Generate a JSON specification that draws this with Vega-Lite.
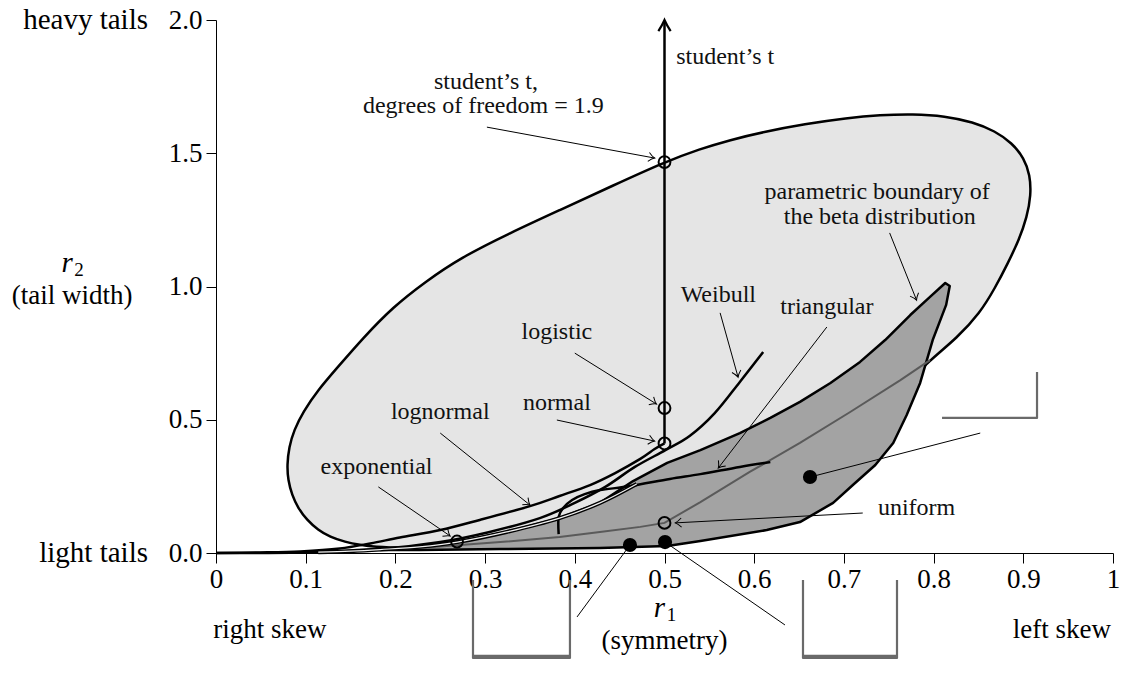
{
  "$schema": "https://vega.github.io/schema/vega-lite/v6.json",
  "width": 897,
  "height": 533,
  "autosize": "none",
  "padding": {"left": 216, "top": 20, "right": 17, "bottom": 120},
  "background": "white",
  "config": {
    "view": {"stroke": null},
    "font": "Liberation Serif",
    "axis": {"grid": false, "tickSize": 10, "tickColor": "black", "tickWidth": 1, "domainColor": "black", "domainWidth": 1,
      "labelFontSize": 27, "labelFont": "Liberation Serif", "labelColor": "black", "labelFlush": false, "labelOverlap": false}
  },
  "datasets": {
    "ellipse": [
      {"i": 1, "x": 0.5, "y": 1.467}, {"i": 2, "x": 0.5396, "y": 1.5159}, {"i": 3, "x": 0.573, "y": 1.5497},
      {"i": 4, "x": 0.6098, "y": 1.5797}, {"i": 5, "x": 0.6566, "y": 1.6098}, {"i": 6, "x": 0.7035, "y": 1.6323},
      {"i": 7, "x": 0.7402, "y": 1.6435}, {"i": 8, "x": 0.777, "y": 1.6473}, {"i": 9, "x": 0.8127, "y": 1.6398},
      {"i": 10, "x": 0.8439, "y": 1.6173}, {"i": 11, "x": 0.8685, "y": 1.5835}, {"i": 12, "x": 0.8874, "y": 1.5385},
      {"i": 13, "x": 0.9008, "y": 1.4822}, {"i": 14, "x": 0.9075, "y": 1.4184}, {"i": 15, "x": 0.9086, "y": 1.3433},
      {"i": 16, "x": 0.9041, "y": 1.2608}, {"i": 17, "x": 0.8952, "y": 1.1745}, {"i": 18, "x": 0.8829, "y": 1.0882},
      {"i": 19, "x": 0.8685, "y": 0.9944}, {"i": 20, "x": 0.8517, "y": 0.9006}, {"i": 21, "x": 0.8261, "y": 0.8068},
      {"i": 22, "x": 0.796, "y": 0.7242}, {"i": 23, "x": 0.7625, "y": 0.6116}, {"i": 24, "x": 0.7291, "y": 0.4991},
      {"i": 25, "x": 0.6845, "y": 0.3677}, {"i": 26, "x": 0.6288, "y": 0.2364}, {"i": 27, "x": 0.5619, "y": 0.1313},
      {"i": 28, "x": 0.4838, "y": 0.0563}, {"i": 29, "x": 0.3946, "y": 0.0263}, {"i": 30, "x": 0.2943, "y": 0.0188},
      {"i": 31, "x": 0.2051, "y": 0.0188}, {"i": 32, "x": 0.1773, "y": 0.0225}, {"i": 33, "x": 0.1605, "y": 0.03},
      {"i": 34, "x": 0.1438, "y": 0.0413}, {"i": 35, "x": 0.1271, "y": 0.06}, {"i": 36, "x": 0.1137, "y": 0.0863},
      {"i": 37, "x": 0.1014, "y": 0.1238}, {"i": 38, "x": 0.0914, "y": 0.1689}, {"i": 39, "x": 0.0847, "y": 0.2176},
      {"i": 40, "x": 0.0803, "y": 0.2739}, {"i": 41, "x": 0.0792, "y": 0.3302}, {"i": 42, "x": 0.0814, "y": 0.3977},
      {"i": 43, "x": 0.087, "y": 0.4615}, {"i": 44, "x": 0.097, "y": 0.5291}, {"i": 45, "x": 0.1137, "y": 0.6116},
      {"i": 46, "x": 0.1349, "y": 0.6942}, {"i": 47, "x": 0.1639, "y": 0.8068}, {"i": 48, "x": 0.1973, "y": 0.9231},
      {"i": 49, "x": 0.233, "y": 1.0169}, {"i": 50, "x": 0.272, "y": 1.1069}, {"i": 51, "x": 0.3278, "y": 1.2008},
      {"i": 52, "x": 0.3835, "y": 1.2871}, {"i": 53, "x": 0.4415, "y": 1.3771}
    ],
    "beta": [
      {"i": 1, "x": 0.183, "y": 0.011}, {"i": 2, "x": 0.227, "y": 0.023}, {"i": 3, "x": 0.269, "y": 0.041},
      {"i": 4, "x": 0.324, "y": 0.079}, {"i": 5, "x": 0.383, "y": 0.131}, {"i": 6, "x": 0.428, "y": 0.188},
      {"i": 7, "x": 0.465, "y": 0.270}, {"i": 8, "x": 0.503, "y": 0.338}, {"i": 9, "x": 0.540, "y": 0.386},
      {"i": 10, "x": 0.584, "y": 0.450}, {"i": 11, "x": 0.618, "y": 0.507}, {"i": 12, "x": 0.651, "y": 0.567},
      {"i": 13, "x": 0.685, "y": 0.638}, {"i": 14, "x": 0.718, "y": 0.717}, {"i": 15, "x": 0.746, "y": 0.799},
      {"i": 16, "x": 0.774, "y": 0.893}, {"i": 17, "x": 0.796, "y": 0.961}, {"i": 18, "x": 0.813, "y": 1.013},
      {"i": 19, "x": 0.818, "y": 1.002}, {"i": 20, "x": 0.814, "y": 0.931}, {"i": 21, "x": 0.799, "y": 0.799},
      {"i": 22, "x": 0.785, "y": 0.638}, {"i": 23, "x": 0.770, "y": 0.518}, {"i": 24, "x": 0.755, "y": 0.413},
      {"i": 25, "x": 0.735, "y": 0.330}, {"i": 26, "x": 0.710, "y": 0.255}, {"i": 27, "x": 0.688, "y": 0.188},
      {"i": 28, "x": 0.651, "y": 0.116}, {"i": 29, "x": 0.614, "y": 0.086}, {"i": 30, "x": 0.540, "y": 0.045},
      {"i": 31, "x": 0.503, "y": 0.026}, {"i": 32, "x": 0.428, "y": 0.019}, {"i": 33, "x": 0.317, "y": 0.015},
      {"i": 34, "x": 0.227, "y": 0.011}
    ],
    "curves": [
      {"c": "grey", "i": 1, "x": 0.183, "y": 0.011}, {"c": "grey", "i": 2, "x": 0.250, "y": 0.024},
      {"c": "grey", "i": 3, "x": 0.317, "y": 0.041}, {"c": "grey", "i": 4, "x": 0.383, "y": 0.060},
      {"c": "grey", "i": 5, "x": 0.428, "y": 0.079}, {"c": "grey", "i": 6, "x": 0.473, "y": 0.098},
      {"c": "grey", "i": 7, "x": 0.500, "y": 0.113}, {"c": "grey", "i": 8, "x": 0.540, "y": 0.191},
      {"c": "grey", "i": 9, "x": 0.595, "y": 0.304}, {"c": "grey", "i": 10, "x": 0.651, "y": 0.413},
      {"c": "grey", "i": 11, "x": 0.707, "y": 0.529}, {"c": "grey", "i": 12, "x": 0.763, "y": 0.649},
      {"c": "grey", "i": 13, "x": 0.796, "y": 0.724},
      {"c": "lognormal", "i": 1, "x": 0.0, "y": 0.0}, {"c": "lognormal", "i": 2, "x": 0.049, "y": 0.002},
      {"c": "lognormal", "i": 3, "x": 0.094, "y": 0.006}, {"c": "lognormal", "i": 4, "x": 0.138, "y": 0.017},
      {"c": "lognormal", "i": 5, "x": 0.172, "y": 0.036}, {"c": "lognormal", "i": 6, "x": 0.205, "y": 0.058},
      {"c": "lognormal", "i": 7, "x": 0.250, "y": 0.086}, {"c": "lognormal", "i": 8, "x": 0.294, "y": 0.124},
      {"c": "lognormal", "i": 9, "x": 0.350, "y": 0.176}, {"c": "lognormal", "i": 10, "x": 0.383, "y": 0.214},
      {"c": "lognormal", "i": 11, "x": 0.417, "y": 0.255}, {"c": "lognormal", "i": 12, "x": 0.445, "y": 0.300},
      {"c": "lognormal", "i": 13, "x": 0.473, "y": 0.353}, {"c": "lognormal", "i": 14, "x": 0.489, "y": 0.390},
      {"c": "lognormal", "i": 15, "x": 0.500, "y": 0.411},
      {"c": "weibull", "i": 1, "x": 0.0, "y": 0.0}, {"c": "weibull", "i": 2, "x": 0.094, "y": 0.002},
      {"c": "weibull", "i": 3, "x": 0.183, "y": 0.015}, {"c": "weibull", "i": 4, "x": 0.250, "y": 0.041},
      {"c": "weibull", "i": 5, "x": 0.305, "y": 0.079}, {"c": "weibull", "i": 6, "x": 0.361, "y": 0.131},
      {"c": "weibull", "i": 7, "x": 0.400, "y": 0.188}, {"c": "weibull", "i": 8, "x": 0.434, "y": 0.248},
      {"c": "weibull", "i": 9, "x": 0.467, "y": 0.323}, {"c": "weibull", "i": 10, "x": 0.501, "y": 0.386},
      {"c": "weibull", "i": 11, "x": 0.528, "y": 0.439}, {"c": "weibull", "i": 12, "x": 0.556, "y": 0.525},
      {"c": "weibull", "i": 13, "x": 0.584, "y": 0.642}, {"c": "weibull", "i": 14, "x": 0.610, "y": 0.754},
      {"c": "double", "i": 1, "x": 0.114, "y": 0.003}, {"c": "double", "i": 2, "x": 0.150, "y": 0.007},
      {"c": "double", "i": 3, "x": 0.183, "y": 0.013}, {"c": "double", "i": 4, "x": 0.227, "y": 0.023},
      {"c": "double", "i": 5, "x": 0.269, "y": 0.041}, {"c": "double", "i": 6, "x": 0.324, "y": 0.079},
      {"c": "double", "i": 7, "x": 0.383, "y": 0.131}, {"c": "double", "i": 8, "x": 0.428, "y": 0.188},
      {"c": "double", "i": 9, "x": 0.469, "y": 0.259},
      {"c": "triangular", "i": 1, "x": 0.382, "y": 0.071}, {"c": "triangular", "i": 2, "x": 0.382, "y": 0.135},
      {"c": "triangular", "i": 3, "x": 0.387, "y": 0.169}, {"c": "triangular", "i": 4, "x": 0.397, "y": 0.199},
      {"c": "triangular", "i": 5, "x": 0.411, "y": 0.221}, {"c": "triangular", "i": 6, "x": 0.428, "y": 0.236},
      {"c": "triangular", "i": 7, "x": 0.462, "y": 0.251}, {"c": "triangular", "i": 8, "x": 0.506, "y": 0.278},
      {"c": "triangular", "i": 9, "x": 0.540, "y": 0.296}, {"c": "triangular", "i": 10, "x": 0.584, "y": 0.323},
      {"c": "triangular", "i": 11, "x": 0.618, "y": 0.341}
    ],
    "tline": [{"x": 0.5, "y": 0.411, "y2": 1.995}],
    "tip": [{"x": 0.5, "y": 2.0}],
    "open": [
      {"x": 0.5, "y": 1.467}, {"x": 0.5, "y": 0.544}, {"x": 0.5, "y": 0.411},
      {"x": 0.5, "y": 0.113}, {"x": 0.2687, "y": 0.043}
    ],
    "dots": [{"x": 0.4615, "y": 0.030}, {"x": 0.5006, "y": 0.041}, {"x": 0.6622, "y": 0.285}],
    "arrows": [
      {"x": 0.302, "y": 1.598, "x2": 0.489, "y2": 1.482},
      {"x": 0.400, "y": 0.750, "x2": 0.491, "y2": 0.559},
      {"x": 0.380, "y": 0.499, "x2": 0.489, "y2": 0.420},
      {"x": 0.250, "y": 0.450, "x2": 0.350, "y2": 0.180},
      {"x": 0.181, "y": 0.248, "x2": 0.261, "y2": 0.064},
      {"x": 0.562, "y": 0.901, "x2": 0.582, "y2": 0.660},
      {"x": 0.681, "y": 0.848, "x2": 0.560, "y2": 0.319},
      {"x": 0.751, "y": 1.201, "x2": 0.781, "y2": 0.949},
      {"x": 0.721, "y": 0.150, "x2": 0.512, "y2": 0.113}
    ],
    "leaders": [
      {"x": 0.6622, "y": 0.285, "x2": 0.852, "y2": 0.450},
      {"x": 0.4615, "y": 0.030, "x2": 0.4025, "y2": -0.240},
      {"x": 0.5006, "y": 0.041, "x2": 0.6343, "y2": -0.270}
    ],
    "icons": [
      {"g": "a", "i": 1, "x": 0.2865, "y": -0.101}, {"g": "a", "i": 2, "x": 0.2865, "y": -0.394},
      {"g": "a", "i": 3, "x": 0.3946, "y": -0.394}, {"g": "a", "i": 4, "x": 0.3946, "y": -0.101},
      {"g": "b", "i": 1, "x": 0.6544, "y": -0.101}, {"g": "b", "i": 2, "x": 0.6544, "y": -0.394},
      {"g": "b", "i": 3, "x": 0.7592, "y": -0.394}, {"g": "b", "i": 4, "x": 0.7592, "y": -0.101},
      {"g": "c", "i": 1, "x": 0.8094, "y": 0.507}, {"g": "c", "i": 2, "x": 0.9153, "y": 0.507},
      {"g": "c", "i": 3, "x": 0.9153, "y": 0.679}
    ],
    "iconbars": [
      {"x": 0.2865, "x2": 0.3946, "y": -0.389},
      {"x": 0.6544, "x2": 0.7592, "y": -0.389}
    ],
    "labels": [
      {"t": "student’s t,", "x": 0.301, "y": 1.767},
      {"t": "degrees of freedom = 1.9", "x": 0.298, "y": 1.677},
      {"t": "logistic", "x": 0.380, "y": 0.829},
      {"t": "normal", "x": 0.380, "y": 0.563},
      {"t": "lognormal", "x": 0.250, "y": 0.529},
      {"t": "exponential", "x": 0.179, "y": 0.323},
      {"t": "Weibull", "x": 0.560, "y": 0.968},
      {"t": "triangular", "x": 0.681, "y": 0.923},
      {"t": "parametric boundary of", "x": 0.737, "y": 1.355},
      {"t": "the beta distribution", "x": 0.740, "y": 1.261},
      {"t": "uniform", "x": 0.781, "y": 0.169}
    ],
    "leftlabels": [{"t": "student’s t", "x": 0.513, "y": 1.861}],
    "edge": [
      {"t": "right skew", "x": 0.060, "y": -0.289},
      {"t": "left skew", "x": 0.943, "y": -0.289},
      {"t": "(symmetry)", "x": 0.5, "y": -0.33},
      {"t": "(tail width)", "x": -0.1605, "y": 0.965}
    ],
    "edgeright": [
      {"t": "heavy tails", "x": -0.0758, "y": 2.0},
      {"t": "light tails", "x": -0.0758, "y": 0.0}
    ],
    "vars": [
      {"v": "r", "s": "1", "x": 0.5, "y": -0.205},
      {"v": "r", "s": "2", "x": -0.1605, "y": 1.09}
    ]
  },
  "encoding": {
    "x": {"field": "x", "type": "quantitative", "title": null,
      "scale": {"domain": [0, 1], "nice": false, "zero": false},
      "axis": {"values": [0, 0.1, 0.2, 0.3, 0.4, 0.5, 0.6, 0.7, 0.8, 0.9, 1],
        "labelExpr": "datum.value == 0 ? '0' : datum.value == 1 ? '1' : format(datum.value, '.1f')",
        "title": null, "labelPadding": 3}},
    "y": {"field": "y", "type": "quantitative", "title": null,
      "scale": {"domain": [0, 2], "nice": false, "zero": false},
      "axis": {"values": [0, 0.5, 1, 1.5, 2], "format": ".1f", "title": null, "labelPadding": 4}}
  },
  "layer": [
    {
      "data": {"name": "ellipse"},
      "mark": {"type": "line", "interpolate": "basis-closed", "fill": "#e5e5e5", "stroke": "black", "strokeWidth": 2.5},
      "encoding": {"order": {"field": "i", "type": "quantitative"}}
    },
    {
      "data": {"name": "beta"},
      "mark": {"type": "line", "interpolate": "linear-closed", "fill": "#a3a3a3", "stroke": "black", "strokeWidth": 2.5, "strokeJoin": "round"},
      "encoding": {"order": {"field": "i", "type": "quantitative"}}
    },
    {
      "data": {"name": "curves"},
      "transform": [{"filter": "datum.c == 'grey'"}],
      "mark": {"type": "line", "stroke": "#5a5a5a", "strokeWidth": 2},
      "encoding": {"order": {"field": "i", "type": "quantitative"}}
    },
    {
      "data": {"name": "curves"},
      "transform": [{"filter": "datum.c == 'lognormal' || datum.c == 'weibull' || datum.c == 'triangular'"}],
      "mark": {"type": "line", "interpolate": "cardinal", "stroke": "black", "strokeWidth": 2.5},
      "encoding": {"order": {"field": "i", "type": "quantitative"}, "detail": {"field": "c"}}
    },
    {
      "data": {"name": "curves"},
      "transform": [{"filter": "datum.c == 'double'"}],
      "mark": {"type": "line", "interpolate": "cardinal", "stroke": "black", "strokeWidth": 4},
      "encoding": {"order": {"field": "i", "type": "quantitative"}}
    },
    {
      "data": {"name": "curves"},
      "transform": [{"filter": "datum.c == 'double'"}],
      "mark": {"type": "line", "interpolate": "cardinal", "stroke": "#f0f0f0", "strokeWidth": 1.2},
      "encoding": {"order": {"field": "i", "type": "quantitative"}}
    },
    {
      "data": {"name": "tline"},
      "mark": {"type": "rule", "stroke": "black", "strokeWidth": 2.5},
      "encoding": {"y2": {"field": "y2"}}
    },
    {
      "data": {"name": "tip"},
      "mark": {"type": "point", "shape": "M-1,-0.55 Q-0.45,-0.2 0,0 Q-0.45,0.2 -1,0.55", "filled": false, "stroke": "black", "strokeWidth": 2.2, "size": 500, "angle": -90, "opacity": 1},
      "encoding": {}
    },
    {
      "data": {"name": "open"},
      "mark": {"type": "point", "shape": "circle", "filled": false, "stroke": "black", "strokeWidth": 2, "size": 140, "opacity": 1},
      "encoding": {}
    },
    {
      "data": {"name": "dots"},
      "mark": {"type": "point", "shape": "circle", "filled": true, "fill": "black", "size": 200, "opacity": 1},
      "encoding": {}
    },
    {
      "data": {"name": "arrows"},
      "mark": {"type": "rule", "stroke": "black", "strokeWidth": 1},
      "encoding": {"x2": {"field": "x2"}, "y2": {"field": "y2"}}
    },
    {
      "data": {"name": "leaders"},
      "mark": {"type": "rule", "stroke": "black", "strokeWidth": 1},
      "encoding": {"x2": {"field": "x2"}, "y2": {"field": "y2"}}
    },
    {
      "data": {"name": "arrows"},
      "transform": [{"calculate": "atan2(-(datum.y2 - datum.y) * 266.5, (datum.x2 - datum.x) * 897) * 180 / PI", "as": "ang"}],
      "mark": {"type": "point", "shape": "M-1,-0.75 Q-0.4,-0.15 0,0 Q-0.4,0.15 -1,0.75", "filled": false, "stroke": "black", "strokeWidth": 1, "size": 150, "opacity": 1},
      "encoding": {
        "x": {"field": "x2", "type": "quantitative", "title": null},
        "y": {"field": "y2", "type": "quantitative", "title": null},
        "angle": {"field": "ang", "type": "quantitative", "scale": null}
      }
    },
    {
      "data": {"name": "icons"},
      "mark": {"type": "line", "stroke": "#6a6a6a", "strokeWidth": 2.2, "strokeJoin": "round"},
      "encoding": {"order": {"field": "i", "type": "quantitative"}, "detail": {"field": "g"}}
    },
    {
      "data": {"name": "iconbars"},
      "mark": {"type": "rule", "stroke": "#6a6a6a", "strokeWidth": 4},
      "encoding": {"x2": {"field": "x2"}}
    },
    {
      "data": {"name": "labels"},
      "mark": {"type": "text", "fontSize": 24, "font": "Liberation Serif", "align": "center", "baseline": "middle", "fill": "#111"},
      "encoding": {"text": {"field": "t"}}
    },
    {
      "data": {"name": "leftlabels"},
      "mark": {"type": "text", "fontSize": 24, "font": "Liberation Serif", "align": "left", "baseline": "middle", "fill": "#111"},
      "encoding": {"text": {"field": "t"}}
    },
    {
      "data": {"name": "edge"},
      "mark": {"type": "text", "fontSize": 27, "font": "Liberation Serif", "align": "center", "baseline": "middle", "fill": "black"},
      "encoding": {"text": {"field": "t"}}
    },
    {
      "data": {"name": "edgeright"},
      "mark": {"type": "text", "fontSize": 29, "font": "Liberation Serif", "align": "right", "baseline": "middle", "fill": "black"},
      "encoding": {"text": {"field": "t"}}
    },
    {
      "data": {"name": "vars"},
      "mark": {"type": "text", "fontSize": 29, "font": "Liberation Serif", "fontStyle": "italic", "align": "center", "baseline": "middle", "dx": -5, "fill": "black"},
      "encoding": {"text": {"field": "v"}}
    },
    {
      "data": {"name": "vars"},
      "mark": {"type": "text", "fontSize": 19, "font": "Liberation Serif", "align": "center", "baseline": "middle", "dx": 7, "dy": 7, "fill": "black"},
      "encoding": {"text": {"field": "s"}}
    }
  ]
}
